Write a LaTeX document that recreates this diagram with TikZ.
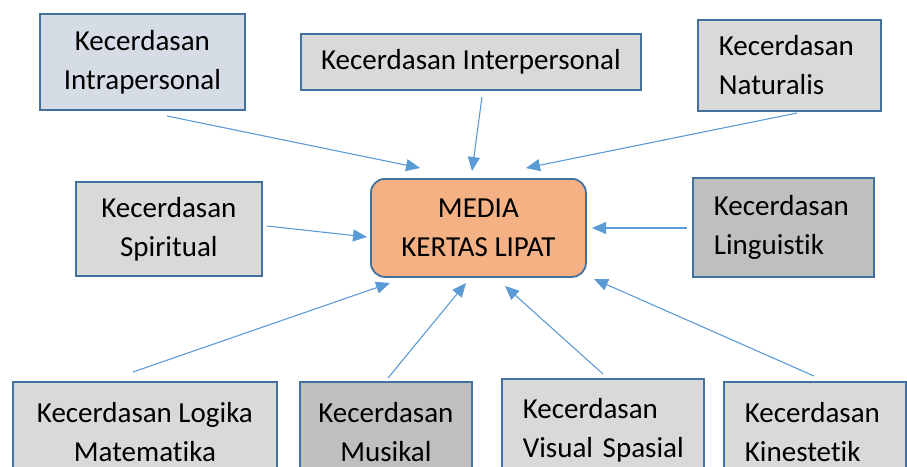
\documentclass[tikz,border=0pt]{standalone}
\usepackage{fontspec}
\setmainfont[Ligatures=NoCommon]{Carlito}
\usetikzlibrary{arrows.meta}
\definecolor{boxline}{HTML}{41719C}
\definecolor{arrowc}{HTML}{5B9BD5}
\definecolor{lightg}{HTML}{D9D9D9}
\definecolor{darkg}{HTML}{BFBFBF}
\definecolor{blueg}{HTML}{D6DCE5}
\definecolor{orangec}{HTML}{F4B183}
\begin{document}
\begin{tikzpicture}[x=1pt,y=-1pt,
  box/.style={draw=boxline,line width=1.8pt,rectangle,inner sep=0pt,font=\fontsize{29}{39}\selectfont,anchor=north west},
  conn/.style={draw=arrowc,line width=1.1pt,-{Triangle[length=14pt,width=12pt]}}]
\useasboundingbox (0,0) rectangle (907,466);
% top row
\node[box,fill=blueg,minimum width=205pt,minimum height=96pt,align=center] (intra) at (39,13) {Kecerdasan\\Intrapersonal};
\node[box,fill=lightg,minimum width=340pt,minimum height=56pt,align=center] (inter) at (300,33) {Kecerdasan Interpersonal};
\node[box,fill=lightg,minimum height=91pt,text width=141pt,inner xsep=21pt,align=left] (natur) at (697,19) {Kecerdasan\\Naturalis};
% middle row
\node[box,fill=lightg,minimum width=186pt,minimum height=94pt,align=center] (spirit) at (75,181) {Kecerdasan\\Spiritual};
\node[box,fill=orangec,rounded corners=14pt,minimum width=215pt,minimum height=98pt,align=center] (media) at (370,178) {MEDIA\\KERTAS LIPAT};
\node[box,fill=darkg,minimum height=99pt,text width=139pt,inner xsep=21pt,align=left] (ling) at (692,177) {Kecerdasan\\Linguistik};
% bottom row
\node[box,fill=lightg,minimum width=264pt,minimum height=100pt,align=center] (logika) at (12,381) {Kecerdasan Logika\\Matematika};
\node[box,fill=darkg,minimum width=172pt,minimum height=100pt,align=center] (musik) at (299,381) {Kecerdasan\\Musikal};
\node[box,fill=lightg,minimum height=102pt,text width=160pt,inner xsep=21pt,align=left] (visual) at (501,378) {Kecerdasan\\\mbox{Visual Spasial}};
\node[box,fill=lightg,minimum height=100pt,text width=140pt,inner xsep=21pt,align=left] (kines) at (723,381) {Kecerdasan\\Kinestetik};
% connector endpoints
\coordinate (s1) at (167,116); \coordinate (e1) at (420,168);
\coordinate (s2) at (482,97);  \coordinate (e2) at (472,171);
\coordinate (s3) at (797,113); \coordinate (e3) at (526,168);
\coordinate (s4) at (267,226); \coordinate (e4) at (367,237);
\coordinate (s5) at (687,228); \coordinate (e5) at (592,228);
\coordinate (s6) at (133,372); \coordinate (e6) at (390,283);
\coordinate (s7) at (388,378); \coordinate (e7) at (466,283);
\coordinate (s8) at (603,374); \coordinate (e8) at (505,286);
\coordinate (s9) at (814,376); \coordinate (e9) at (594,279);
\foreach \i in {1,...,9} {\draw[conn] (s\i) -- (e\i);}
\end{tikzpicture}
\end{document}
